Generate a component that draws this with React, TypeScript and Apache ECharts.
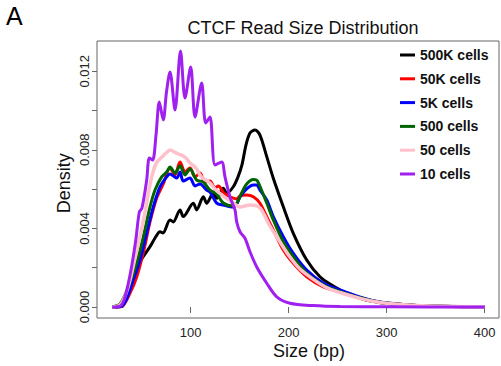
import React, { useEffect, useRef } from "react";
import * as echarts from "echarts";

const seriesNames = ["500K cells", "50K cells", "5K cells", "500 cells", "50 cells", "10 cells"];

// [size (bp), density]
const cells500K = [
  [20, 0], [29.6, 0.00002], [34.7, 0.00052], [41.4, 0.00154], [48.3, 0.00231], [58.5, 0.00307],
  [63.6, 0.00351], [68.7, 0.00383], [71.7, 0.00377], [78.9, 0.00443], [82.2, 0.00433],
  [89.1, 0.00494], [92.4, 0.0046], [102.7, 0.00528], [106.1, 0.00494], [112.9, 0.00561],
  [116.3, 0.00528], [123.1, 0.00579], [126.5, 0.00553], [133.3, 0.00604], [136.7, 0.00579],
  [143.5, 0.00612], [148.3, 0.00662], [152.3, 0.00723], [156.4, 0.00824], [160.5, 0.00885],
  [165.6, 0.00901], [170.7, 0.00875], [177.6, 0.00765], [184.3, 0.00655], [194.5, 0.0051],
  [204.7, 0.00375], [218.4, 0.00239], [231.9, 0.00154], [245.5, 0.00107], [259.2, 0.0007],
  [276.1, 0.00039], [293.2, 0.00022], [310.2, 0.00014], [344.2, 0.00005], [400, 0.00002],
];

const cells50K = [
  [20, 0], [29.6, 0.00003], [38.1, 0.00071], [44.9, 0.00153], [51.6, 0.00275], [58.5, 0.00433],
  [65.3, 0.00555], [72, 0.00626], [78.9, 0.00707], [84, 0.00672], [89.1, 0.00738], [94.2, 0.00687],
  [99.3, 0.00707], [104.4, 0.00662], [109.5, 0.00682], [114.6, 0.00636], [119.7, 0.00641],
  [124.8, 0.00606], [128.2, 0.00616], [134, 0.0058], [140.1, 0.00561], [146.9, 0.0055],
  [150.3, 0.00565], [157.1, 0.0057], [163.9, 0.00561], [170.7, 0.00528], [177.6, 0.0046],
  [184.3, 0.00392], [194.5, 0.0029], [204.7, 0.00222], [218.4, 0.00154], [235.3, 0.00103],
  [252.3, 0.00078], [275.8, 0.00043], [293.2, 0.00024], [313.6, 0.00014], [344.2, 0.00005], [400, 0.00001],
];

const cells5K = [
  [20, 0], [29.6, 0.00005], [35, 0.00046], [41.4, 0.00137], [48.3, 0.00239], [55.1, 0.00377],
  [61.8, 0.00509], [68.7, 0.00611], [75.5, 0.00662], [78.9, 0.00677], [85.7, 0.00656], [89.1, 0.00687],
  [92.4, 0.00641], [99.3, 0.00656], [104.4, 0.00616], [109.5, 0.00626], [116.3, 0.00595],
  [119.7, 0.00585], [126.5, 0.00529], [133.3, 0.00519], [143.5, 0.00509], [147, 0.00524],
  [150.3, 0.0056], [157.1, 0.00601], [163.9, 0.00621], [167.3, 0.00621], [170.7, 0.00595],
  [177.6, 0.00545], [184.3, 0.0046], [194.5, 0.00358], [204.7, 0.00273], [218.4, 0.00188],
  [235.3, 0.00121], [252.3, 0.00087], [275.8, 0.00046], [293.2, 0.00025], [313.6, 0.00014],
  [344.2, 0.00005], [400, 0.00001],
];

const cells500 = [
  [20, 0], [27.9, 0.00015], [36.3, 0.00102], [44.9, 0.00224], [51.6, 0.00356], [58.5, 0.00509],
  [63.6, 0.00595], [70.4, 0.00662], [75.5, 0.00687], [78.9, 0.00712], [84, 0.00682], [89.1, 0.00718],
  [94.2, 0.00672], [99.3, 0.00702], [106.1, 0.00646], [112.9, 0.00636], [119.7, 0.00595],
  [126.5, 0.00575], [133.3, 0.00529], [143.5, 0.00514], [147.2, 0.00529], [152, 0.0058],
  [157.1, 0.00626], [163.9, 0.00649], [167.3, 0.00646], [169.7, 0.00626], [177.6, 0.00529],
  [184.3, 0.00443], [194.5, 0.00332], [204.7, 0.00256], [218.4, 0.00172], [235.3, 0.00112],
  [252.3, 0.00078], [275.8, 0.00043], [293.2, 0.00024], [313.6, 0.00014], [344.2, 0.00005], [400, 0.00001],
];

const cells50 = [
  [20, 0], [27.9, 0.0001], [33, 0.00056], [38.1, 0.00137], [43.2, 0.00249], [48.3, 0.00361],
  [53.4, 0.00483], [57.4, 0.00595], [61.5, 0.00687], [65.6, 0.00738], [70.7, 0.00763],
  [74.8, 0.00784], [78.9, 0.00799], [85, 0.00784], [90.1, 0.00774], [95.2, 0.00758],
  [99.3, 0.00733], [105.4, 0.00707], [109.5, 0.00672], [112.6, 0.00656], [119.7, 0.00631],
  [125.8, 0.00595], [133, 0.00565], [143.2, 0.00529], [150.3, 0.00509], [160.5, 0.00519],
  [170.7, 0.00504], [180.9, 0.00412], [191.1, 0.00331], [201.3, 0.00254], [211.5, 0.00193],
  [224.8, 0.00142], [239.1, 0.00097], [252.3, 0.00074], [275.8, 0.0004], [293.2, 0.00023],
  [313.6, 0.00013], [344.2, 0.00005], [400, 0.00001],
];

const cells10 = [
  [20, 0], [28, 0.00005], [32, 0.00036], [36, 0.00112], [40, 0.00214], [44, 0.00341],
  [47.6, 0.00483], [50.3, 0.00504], [55.1, 0.00646], [57.8, 0.00758], [61.2, 0.00748],
  [64.6, 0.00875], [68, 0.01043], [72, 0.00952], [75.3, 0.01094], [78.9, 0.01196], [84, 0.01003],
  [89.6, 0.01303], [94.2, 0.01064], [100, 0.01221], [104.4, 0.00967], [111.2, 0.0114],
  [115.3, 0.00936], [119.7, 0.00967], [124.8, 0.00723], [131.6, 0.00738], [135, 0.00662],
  [140.1, 0.0056], [145.2, 0.00494], [146.9, 0.00434], [150.3, 0.00383], [155.4, 0.0035],
  [160.5, 0.00281], [167.3, 0.00205], [177.6, 0.00121], [187.8, 0.00052], [201.3, 0.00019],
  [224.8, 0.00007], [252.3, 0.00002], [300, 0.00001], [400, 0],
];

const xTickValues = [100, 200, 300, 400];
const yTickValues = [0, 0.002, 0.004, 0.006, 0.008, 0.01, 0.012];
const yLabelValues = [0, 0.004, 0.008, 0.012];

export default function App() {
  const ref = useRef<HTMLDivElement>(null);
  useEffect(() => {
    const chart = echarts.init(ref.current!, null, { renderer: "svg" });
    const FONT = "'Liberation Sans', Arial, Helvetica, sans-serif";
    const colors = ["#000000", "#ff0000", "#0000ff", "#006400", "#ffc0cb", "#a020f0"];
    const widths = [3, 3, 3, 3, 3.5, 3];
    const all = [cells500K, cells50K, cells5K, cells500, cells50, cells10];
    chart.setOption({
      animation: false,
      grid: {
        left: 97, top: 41, right: 2, bottom: 48, show: true,
        borderColor: "#666", borderWidth: 1, backgroundColor: "transparent",
      },
      xAxis: {
        type: "value", min: 4.4, max: 414.6,
        splitLine: { show: false },
        axisLine: { show: false },
        axisTick: { show: true, customValues: xTickValues, length: 6, lineStyle: { color: "#666" } },
        axisLabel: { customValues: xTickValues, fontSize: 13, color: "#222", margin: 8, fontFamily: FONT },
      },
      yAxis: {
        type: "value", min: -0.00056, max: 0.013537,
        splitLine: { show: false },
        axisLine: { show: false },
        axisTick: { show: true, customValues: yTickValues, length: 5, lineStyle: { color: "#666" } },
        axisLabel: {
          customValues: yLabelValues, fontSize: 13, color: "#222", margin: 6, rotate: 90,
          fontFamily: FONT, formatter: (v: number) => v.toFixed(3),
        },
      },
      legend: {
        orient: "vertical", left: 400, top: 47, padding: 0,
        itemWidth: 15, itemHeight: 3, itemGap: 7.8, icon: "rect",
        textStyle: { fontSize: 14, fontWeight: "bold", color: "#111", fontFamily: FONT, lineHeight: 16 },
        data: seriesNames,
      },
      series: all.map((d, i) => ({
        type: "line", name: seriesNames[i], data: d, showSymbol: false, smooth: 0.3,
        lineStyle: { color: colors[i], width: widths[i] }, itemStyle: { color: colors[i] }, z: 2 + i,
      })),
      graphic: [
        { type: "text", x: 6, y: 15.5, style: { text: "A", font: `25px ${FONT}`, fill: "#000", align: "left", verticalAlign: "middle" } },
        { type: "text", x: 303, y: 28, style: { text: "CTCF Read Size Distribution", font: `18px ${FONT}`, fill: "#111", align: "center", verticalAlign: "middle" } },
        { type: "text", x: 309, y: 351, style: { text: "Size (bp)", font: `18px ${FONT}`, fill: "#111", align: "center", verticalAlign: "middle" } },
        { type: "text", x: 63.5, y: 183.3, rotation: Math.PI / 2, style: { text: "Density", font: `18px ${FONT}`, fill: "#111", align: "center", verticalAlign: "middle" } },
      ],
    });
    return () => chart.dispose();
  }, []);
  return <div ref={ref} style={{ position: "absolute", left: 0, top: 0, width: 501, height: 366 }} />;
}
